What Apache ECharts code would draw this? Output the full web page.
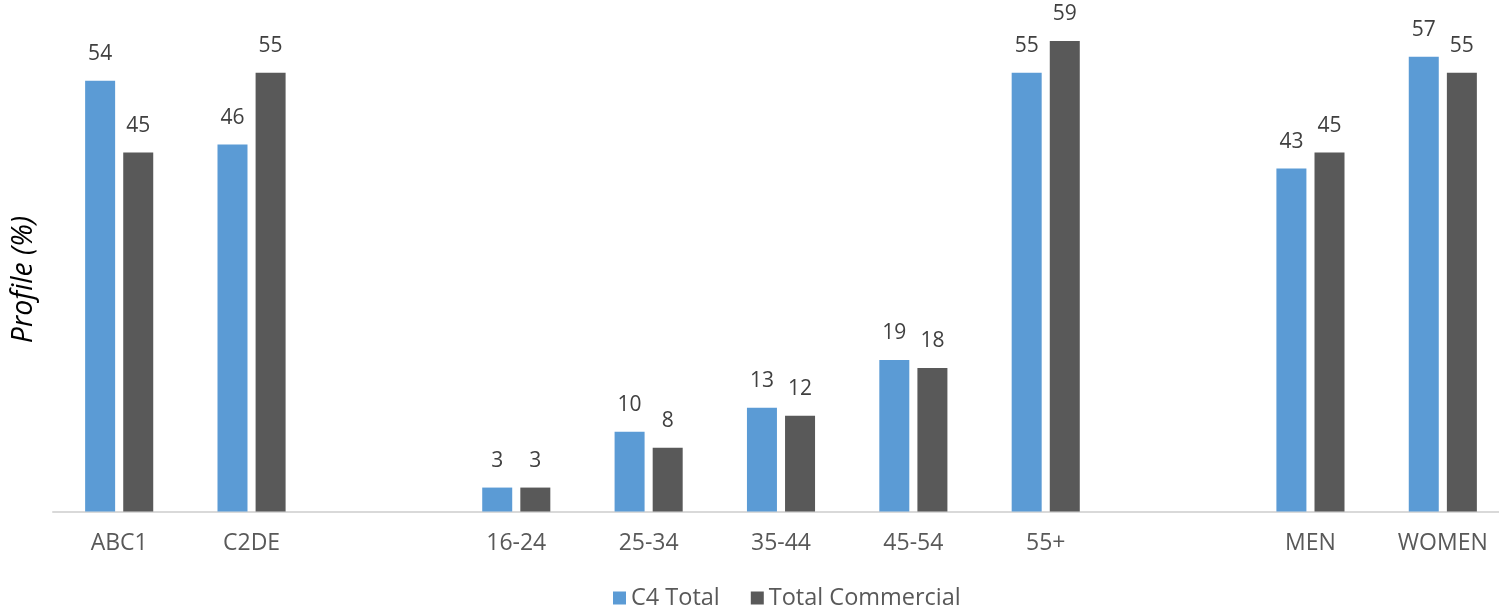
<!DOCTYPE html>
<html>
<head>
<meta charset="utf-8">
<title>Profile by demographic</title>
<script src="https://cdn.jsdelivr.net/npm/echarts@6/dist/echarts.min.js"></script>
<style>
  html, body { margin: 0; padding: 0; background: #ffffff; overflow: hidden; }
  /* the plot runs slightly past the right edge of the page */
  #chart { width: 1520px; height: 610px; }
</style>
</head>
<body>
<div id="chart"></div>
<script>
// Category groups, with an empty slot separating each group
const categories = ['ABC1', 'C2DE', '', '16-24', '25-34', '35-44', '45-54', '55+', '', 'MEN', 'WOMEN'];
const c4Total = [54, 46, null, 3, 10, 13, 19, 55, null, 43, 57];
const totalCommercial = [45, 55, null, 3, 8, 12, 18, 59, null, 45, 55];
const seriesNames = ['C4 Total', 'Total Commercial'];
const yAxisTitle = 'Profile (%)';

const FONT = '"Open Sans", "Noto Sans", sans-serif';
const BLUE = '#5b9bd5';
const GREY = '#595959';

const labelStyle = {
  show: true,
  position: 'top',
  distance: 16,
  color: '#404040',
  fontSize: 21,
  fontFamily: FONT
};

const chart = echarts.init(document.getElementById('chart'), null, { renderer: 'canvas' });

chart.setOption({
  animation: false,
  backgroundColor: '#ffffff',
  textStyle: { fontFamily: FONT },
  grid: { left: 53, width: 1456, top: 1, bottom: 98.5, containLabel: false },
  legend: {
    data: seriesNames,
    left: 608,
    top: 581,
    icon: 'rect',
    itemWidth: 13,
    itemHeight: 13,
    itemGap: 31,
    textStyle: { color: '#595959', fontSize: 23.5, fontFamily: FONT }
  },
  graphic: [{
    type: 'text',
    left: 9,
    top: 216,
    rotation: Math.PI / 2,
    originX: 0,
    originY: 0,
    style: {
      text: yAxisTitle,
      fontSize: 28.5,
      fontStyle: 'italic',
      fontFamily: FONT,
      fill: '#000000'
    }
  }],
  xAxis: {
    type: 'category',
    data: categories,
    axisLine: { show: true, lineStyle: { color: '#d9d9d9', width: 2 } },
    axisTick: { show: false },
    axisLabel: {
      color: '#595959',
      fontSize: 23,
      fontFamily: FONT,
      margin: 20,
      interval: 0
    }
  },
  yAxis: {
    type: 'value',
    min: 0,
    max: 64,
    show: false,
    splitLine: { show: false }
  },
  series: [
    {
      name: seriesNames[0],
      type: 'bar',
      data: c4Total,
      barWidth: 30,
      barGap: '27%',
      itemStyle: { color: BLUE },
      label: labelStyle
    },
    {
      name: seriesNames[1],
      type: 'bar',
      data: totalCommercial,
      barWidth: 30,
      barGap: '27%',
      itemStyle: { color: GREY },
      label: labelStyle
    }
  ]
});
</script>
</body>
</html>
